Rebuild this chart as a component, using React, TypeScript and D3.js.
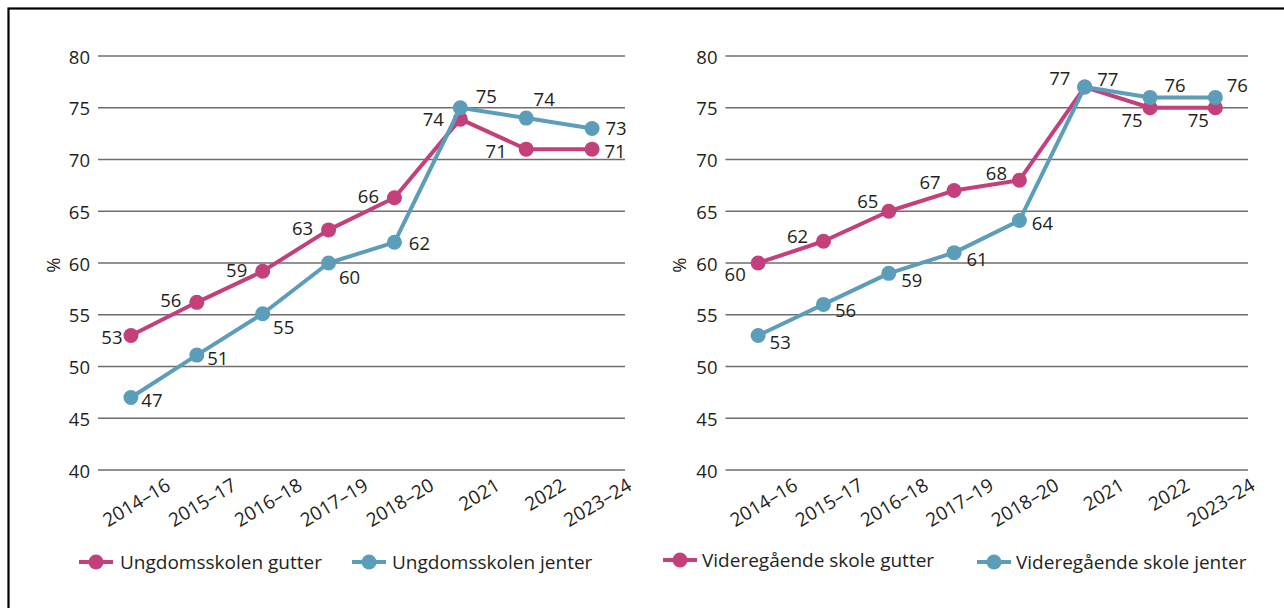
import React from "react";
import * as d3 from "d3";

// ---- data ----
const categories = ["2014–16", "2015–17", "2016–18", "2017–19", "2018–20", "2021", "2022", "2023–24"];
const ungdomGutter = [53, 56.2, 59.2, 63.2, 66.3, 73.9, 71, 71];
const ungdomJenter = [47, 51.1, 55.1, 60, 62, 75, 74, 73];
const vgsGutter = [60, 62.1, 65, 67, 68, 77, 75, 75];
const vgsJenter = [53, 56, 59, 61, 64.1, 77, 76, 76];
const yTicks = [40, 45, 50, 55, 60, 65, 70, 75, 80];

// label nudges (layout only), relative to each point
const leftGutterNudge = [[-19, 1], [-26, -3], [-26, -2], [-26, -2], [-26, -2], [-27, -1], [-30, 1], [23, 1]];
const leftJenterNudge = [[21, 2], [21, 2], [21, 13], [21, 13], [25, 0], [26, -12], [18, -20], [24, -1]];
const rightGutterNudge = [[-23, 10], [-26, -6], [-21, -11], [-24, -9], [-23, -8], [-25, -10], [-18, 12], [-17, 12]];
const rightJenterNudge = [[22, 6], [22, 5], [23, 6], [23, 6], [23, 2], [23, -9], [25, -13], [22, -13]];

const MAGENTA = "#C4407B";
const BLUE = "#5C9DBA";
const TEXT = "#231F20";
const GRID = "#6E6E6E";
const FONT = "'Open Sans', 'Noto Sans', sans-serif";

const y = d3.scaleLinear().domain([40, 80]).range([470, 56]);

type Series = { values: number[]; color: string; nudge: number[][]; name: string };

function Panel({ x0, x1, pctX, series, legendX }: { x0: number; x1: number; pctX: number; series: Series[]; legendX: number[][] }) {
  const x = d3.scaleBand<string>().domain(categories).range([x0, x1]).paddingInner(0).paddingOuter(0);
  const cx = (c: string) => (x(c) as number) + x.bandwidth() / 2;
  const line = d3
    .line<number>()
    .x((_, i) => cx(categories[i]))
    .y((d) => y(d));
  return (
    <g>
      {yTicks.map((t) => (
        <g key={t}>
          <line x1={x0} x2={x1} y1={y(t)} y2={y(t)} stroke={GRID} strokeWidth={1.4} />
          <text x={x0 - 8} y={y(t)} textAnchor="end" dominantBaseline="central" fontSize={18.5} fill={TEXT}>
            {t}
          </text>
        </g>
      ))}
      <text transform={`translate(${pctX},265) rotate(-90)`} textAnchor="middle" dominantBaseline="central" fontSize={18.5} fill={TEXT}>
        %
      </text>
      {categories.map((c) => (
        <text key={c} transform={`translate(${cx(c) + 41},489) rotate(-31)`} textAnchor="end" fontSize={19} fill={TEXT}>
          {c}
        </text>
      ))}
      {series.map((s) => (
        <g key={s.name}>
          <path d={line(s.values) as string} fill="none" stroke={s.color} strokeWidth={4} strokeLinejoin="round" />
          {s.values.map((v, i) => (
            <circle key={i} cx={cx(categories[i])} cy={y(v)} r={7.5} fill={s.color} />
          ))}
        </g>
      ))}
      {series.map((s) => (
        <g key={s.name + "-lab"}>
          {s.values.map((v, i) => (
            <text
              key={i}
              x={cx(categories[i]) + s.nudge[i][0]}
              y={y(v) + s.nudge[i][1]}
              textAnchor="middle"
              dominantBaseline="central"
              fontSize={18.5}
              fill={TEXT}
            >
              {Math.round(v)}
            </text>
          ))}
        </g>
      ))}
      {series.map((s, k) => (
        <g key={s.name + "-leg"}>
          <line x1={legendX[k][0]} x2={legendX[k][0] + 34} y1={legendX[k][2]} y2={legendX[k][2]} stroke={s.color} strokeWidth={4} />
          <circle cx={legendX[k][0] + 17} cy={legendX[k][2]} r={7.5} fill={s.color} />
          <text x={legendX[k][1]} y={legendX[k][2]} dominantBaseline="central" fontSize={19} fill={TEXT}>
            {s.name}
          </text>
        </g>
      ))}
    </g>
  );
}

export default function App() {
  return (
    <svg
      width={1284}
      height={608}
      style={{ position: "absolute", left: 0, top: 0, fontFamily: FONT, background: "#fff" }}
    >
      <rect x={0} y={0} width={1284} height={608} fill="#fff" />
      <rect x={8.5} y={8.5} width={1400} height={800} fill="none" stroke="#000" strokeWidth={2.2} />
      <Panel
        x0={98}
        x1={625}
        pctX={52}
        series={[
          { values: ungdomGutter, color: MAGENTA, nudge: leftGutterNudge, name: "Ungdomsskolen gutter" },
          { values: ungdomJenter, color: BLUE, nudge: leftJenterNudge, name: "Ungdomsskolen jenter" },
        ]}
        legendX={[
          [79, 120, 562],
          [352, 392, 562],
        ]}
      />
      <Panel
        x0={725.5}
        x1={1248}
        pctX={678}
        series={[
          { values: vgsGutter, color: MAGENTA, nudge: rightGutterNudge, name: "Videregående skole gutter" },
          { values: vgsJenter, color: BLUE, nudge: rightJenterNudge, name: "Videregående skole jenter" },
        ]}
        legendX={[
          [663, 702, 560],
          [977, 1016, 562],
        ]}
      />
    </svg>
  );
}
